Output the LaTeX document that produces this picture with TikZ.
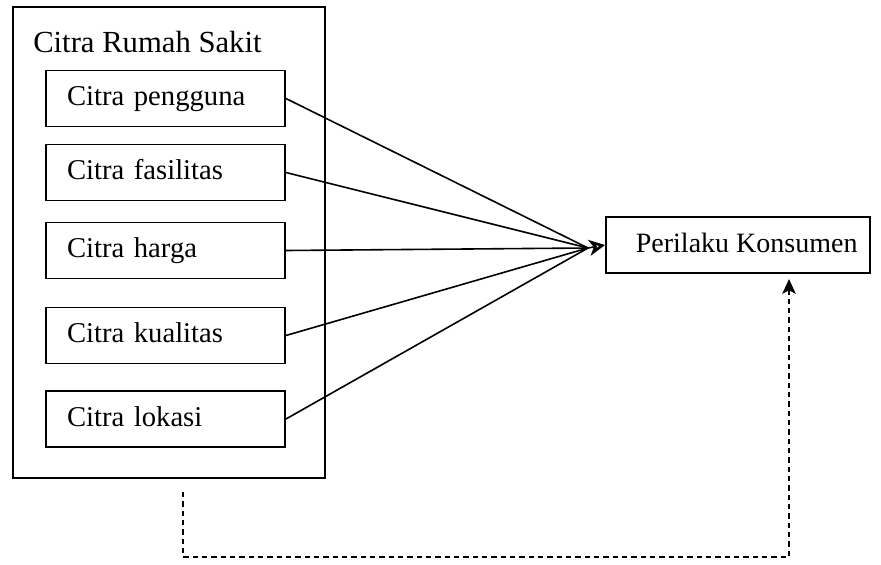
\documentclass[tikz,border=0pt]{standalone}
\usepackage{fontspec}
\setmainfont{Liberation Serif}
\usetikzlibrary{arrows.meta}
\begin{document}
\begin{tikzpicture}[x=0.75pt,y=-0.75pt,
  box/.style={draw,line width=1.4pt,rectangle},
  inbox/.style={box,minimum width=179.25pt,minimum height=42pt,text width=147.75pt,
    inner xsep=15.75pt,align=left,font=\fontsize{21.5}{24}\selectfont,
    text height=15pt,text depth=4.5pt},
  conn/.style={line width=1.2pt},
  dashconn/.style={line width=1.2pt,dash pattern=on 4pt off 3pt}]
\useasboundingbox (0,0) rectangle (881,564);
% outer group
\node[box,minimum width=234pt,minimum height=353.25pt,inner sep=0pt] (outer) at (169,242.5) {};
\node[anchor=base west,inner sep=0pt,font=\fontsize{23}{26}\selectfont] (title) at (33,52) {Citra Rumah Sakit};
% inner boxes
\node[inbox] (pengguna) at (165.5,98.5) {Citra pengguna};
\node[inbox] (fasilitas) at (165.5,172.5) {Citra fasilitas};
\node[inbox] (harga) at (165.5,250.5) {Citra harga};
\node[inbox] (kualitas) at (165.5,335.5) {Citra kualitas};
\node[inbox] (lokasi) at (165.5,419) {Citra lokasi};
% target
\node[box,minimum width=198pt,minimum height=42pt,font=\fontsize{21}{24}\selectfont,
  text height=15pt,text depth=4.5pt] (perilaku) at (738,245) {\hspace*{13pt}Perilaku Konsumen};
% converging connectors
\coordinate (hub) at (588,248);
\draw[conn] (pengguna.east) -- (hub);
\draw[conn] (fasilitas.east) -- (hub);
\draw[conn] (kualitas.east) -- (hub);
\draw[conn] (lokasi.east) -- (hub);
\draw[conn,-{Stealth[open,length=12pt,width=12pt,inset=3.5pt,line width=2pt]}] (harga.east) -- (hub) -- (perilaku.west);
% dashed feedback
\coordinate (d1) at (183,492);
\coordinate (d2) at (183,557);
\coordinate (d3) at (789,557);
\coordinate (d4) at (789,279);
\draw[dashconn,-{Stealth[length=11pt,width=10pt,inset=2.5pt]}] (d1) -- (d2) -- (d3) -- (d4);
\end{tikzpicture}
\end{document}
